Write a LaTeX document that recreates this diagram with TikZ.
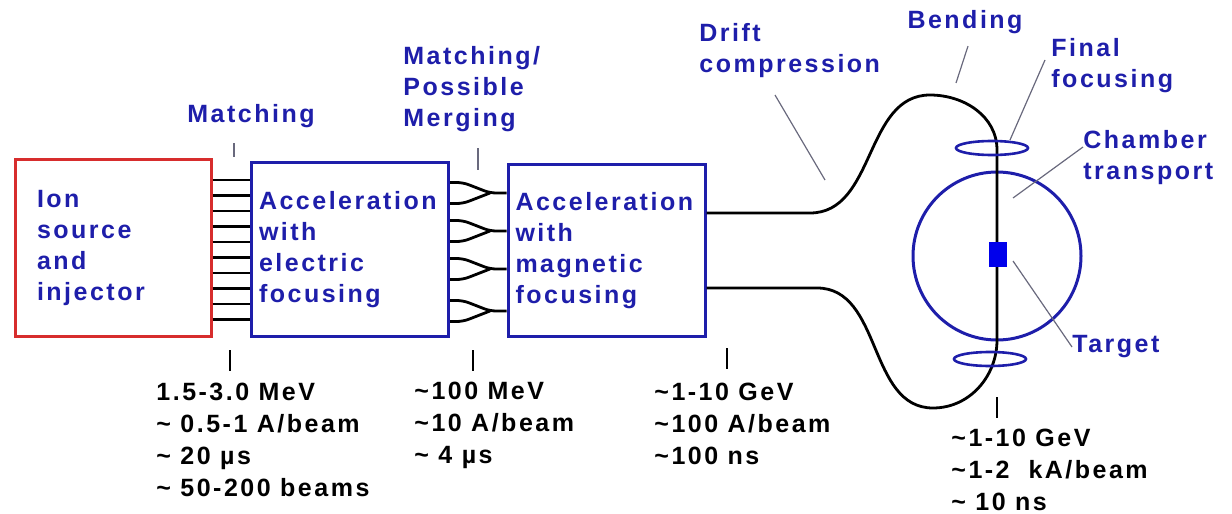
\documentclass[tikz,border=0pt]{standalone}
\usepackage{fontspec}
\setmainfont{Liberation Sans}[LetterSpace=10]
\usetikzlibrary{shapes.geometric}
\definecolor{dblue}{RGB}{30,30,170}
\definecolor{sred}{RGB}{215,45,45}
\definecolor{tblue}{RGB}{0,0,235}
\definecolor{lgrey}{RGB}{105,105,125}
\begin{document}
\begin{tikzpicture}[x=0.5pt,y=-0.5pt,
  every node/.style={font=\fontsize{12.5}{15.5}\selectfont\bfseries},
  stage/.style={draw=dblue,line width=1.5pt,text=dblue,align=left,inner xsep=3.75pt,text width=91pt,minimum height=87pt},
  lbl/.style={text=dblue,align=left,inner sep=0pt},
  val/.style={align=left,inner sep=0pt,font=\fontsize{12.5}{16}\selectfont\bfseries},
  beam/.style={line width=1.4pt},
  lead/.style={lgrey,line width=0.6pt},
  tick/.style={line width=1.4pt},
  lens/.style={ellipse,draw=dblue,line width=1.3pt,minimum width=36pt,minimum height=7pt,inner sep=0pt}]
  \useasboundingbox (0,0) rectangle (1232,514);
  % the three stages
  \node[stage,draw=sred,inner xsep=11pt,text width=76pt,minimum height=88.5pt] (src) at (113,248) {Ion\\source\\and\\injector};
  \node[stage] (elec) at (350,249.5) {Acceleration\\with\\electric\\focusing};
  \node[stage,minimum height=86pt] (mag) at (606.5,250.5) {Acceleration\\with\\magnetic\\focusing};
  \foreach \y in {180,195.5,...,320} \draw[beam] (src.east |- 0,\y) -- (elec.west |- 0,\y);
  \foreach \c [count=\i] in {193,231,269,311} {
    \coordinate (m\i) at (490,\c);
    \draw[beam,rounded corners=3pt] (elec.east |- 0,\c-10.5) -- ++(13,0) -- (m\i) -- (mag.west |- m\i);
    \draw[beam,rounded corners=3pt] (elec.east |- 0,\c+10.5) -- ++(13,0) -- (m\i);
  }
  % chamber and beams to target
  \node[circle,draw=dblue,line width=1.5pt,minimum size=84pt,inner sep=0pt] (chamber) at (997,256) {};
  \draw[beam] (mag.east |- 0,213) -- (810,213) to[out=0,in=180] (930,95) to[out=0,in=90] (997,150) -- (997,340) to[out=-90,in=0] (933,408) to[out=180,in=0] (817,288) -- (mag.east |- 0,288);
  \node[lens] (fflens) at (992,148) {}; \node[lens] (lowlens) at (990,359) {};
  \node[fill=tblue,minimum width=9pt,minimum height=12.5pt,inner sep=0pt] (target) at (998,254.5) {};
  % labels
  \node[lbl] (match) at (251,116) {Matching};
  \node[lbl,anchor=west] (merge) at (403,89) {Matching/\\Possible\\Merging};
  \node[lbl,anchor=west] (drift) at (699,51) {Drift\\compression};
  \node[lbl] (bend) at (965,22) {Bending};
  \node[lbl,anchor=west] (final) at (1051,66) {Final\\focusing};
  \node[lbl,anchor=west] (chamb) at (1083,158) {Chamber\\transport};
  \node[lbl,anchor=west] (targ) at (1072,347) {Target};
  \draw[lead] (234,143) -- (234,157); \draw[lead] (478,148) -- (478,170);
  \draw[lead] (775,95) -- (825,180); \draw[lead] ([xshift=1.5pt,yshift=-6pt]bend.south) -- (956,83);
  \draw[lead] ([xshift=-3pt,yshift=3pt]final.west) -- (1010,140); \draw[lead] ([yshift=5.5pt]chamb.west) -- (1013,198);
  \draw[lead] (targ.west) -- (1013,261);
  % beam parameters
  \node[val,anchor=west] (v1) at (156,440) {1.5-3.0 MeV\\\textasciitilde{} 0.5-1 A/beam\\\textasciitilde{} 20 µs\\\textasciitilde{} 50-200 beams};
  \node[val,anchor=west] (v2) at (414,425) {\textasciitilde100 MeV\\\textasciitilde10 A/beam\\\textasciitilde{} 4 µs};
  \node[val,anchor=west] (v3) at (654,424) {\textasciitilde1-10 GeV\\\textasciitilde100 A/beam\\\textasciitilde100 ns};
  \node[val,anchor=west] (v4) at (951,470) {\textasciitilde1-10 GeV\\\textasciitilde1-2\ \ kA/beam\\\textasciitilde{} 10 ns};
  \foreach \x/\a in {230/350,473/350,727/348,997/397} \draw[tick] (\x,\a) -- ++(0,21);
\end{tikzpicture}
\end{document}
